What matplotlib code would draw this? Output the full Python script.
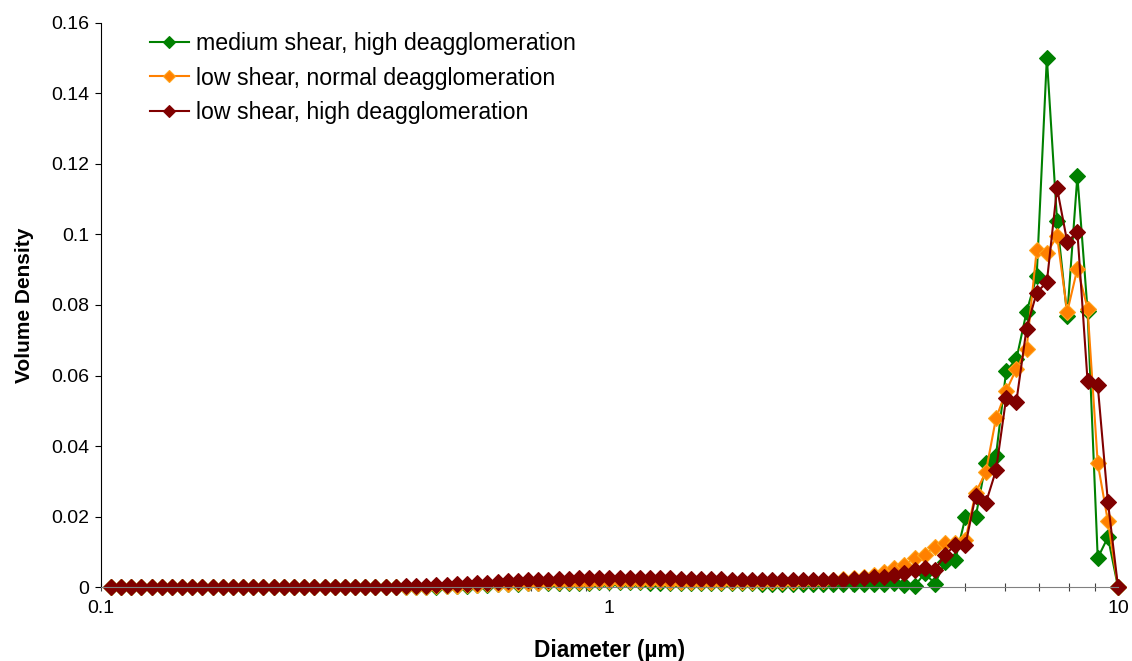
import numpy as np
import matplotlib
matplotlib.use("Agg")
import matplotlib.pyplot as plt
from matplotlib.ticker import FuncFormatter, FixedLocator, NullFormatter

plt.rcParams['font.family'] = ['Liberation Sans', 'DejaVu Sans']

# size classes (um), log spaced
diameter = [
    0.1047, 0.1096, 0.1148, 0.1202, 0.1259, 0.1318, 0.1380, 0.1445, 0.1514, 0.1585,
    0.1660, 0.1738, 0.1820, 0.1905, 0.1995, 0.2089, 0.2188, 0.2291, 0.2399, 0.2512,
    0.2630, 0.2754, 0.2884, 0.3020, 0.3162, 0.3311, 0.3467, 0.3631, 0.3802, 0.3981,
    0.4169, 0.4365, 0.4571, 0.4786, 0.5012, 0.5248, 0.5495, 0.5754, 0.6026, 0.6310,
    0.6607, 0.6918, 0.7244, 0.7586, 0.7943, 0.8318, 0.8710, 0.9120, 0.9550, 1.0000,
    1.047, 1.096, 1.148, 1.202, 1.259, 1.318, 1.380, 1.445, 1.514, 1.585,
    1.660, 1.738, 1.820, 1.905, 1.995, 2.089, 2.188, 2.291, 2.399, 2.512,
    2.630, 2.754, 2.884, 3.020, 3.162, 3.311, 3.467, 3.631, 3.802, 3.981,
    4.169, 4.365, 4.571, 4.786, 5.012, 5.248, 5.495, 5.754, 6.026, 6.310,
    6.607, 6.918, 7.244, 7.586, 7.943, 8.318, 8.710, 9.120, 9.550, 10.00,
]

# medium shear, high deagglomeration
med_high = [
    0, 0, 0, 0, 0, 0, 0, 0, 0, 0,
    0, 0, 0, 0, 0, 0, 0, 0, 0, 0,
    0, 0, 0, 0, 0, 0, 0, 0, 0, 0,
    0.0001, 0.0001, 0.0002, 0.0003, 0.0004, 0.0005, 0.0006, 0.0007, 0.0008, 0.0009,
    0.0010, 0.0011, 0.0011, 0.0012, 0.0012, 0.0013, 0.0013, 0.0013, 0.0014, 0.0014,
    0.0014, 0.0014, 0.0014, 0.0013, 0.0013, 0.0013, 0.0013, 0.0012, 0.0012, 0.0012,
    0.0012, 0.0011, 0.0011, 0.0011, 0.0010, 0.0010, 0.0010, 0.0010, 0.0009, 0.0009,
    0.0009, 0.0009, 0.0009, 0.0009, 0.0009, 0.0009, 0.0008, 0.0012, 0.0006, 0.0004,
    0.0040, 0.0010, 0.0073, 0.0078, 0.0199, 0.0199, 0.0352, 0.0373, 0.0613, 0.0646,
    0.0780, 0.0881, 0.1501, 0.1039, 0.0769, 0.1166, 0.0784, 0.0083, 0.0142, 0,
]

# low shear, normal deagglomeration
low_normal = [
    0, 0, 0, 0, 0, 0, 0, 0, 0, 0,
    0, 0, 0, 0, 0, 0, 0, 0, 0, 0,
    0, 0, 0, 0, 0, 0, 0, 0, 0, 0,
    0.0001, 0.0002, 0.0003, 0.0004, 0.0005, 0.0006, 0.0007, 0.0008, 0.0009, 0.0010,
    0.0011, 0.0012, 0.0013, 0.0014, 0.0015, 0.0015, 0.0016, 0.0016, 0.0017, 0.0017,
    0.0017, 0.0017, 0.0017, 0.0017, 0.0017, 0.0016, 0.0016, 0.0016, 0.0016, 0.0016,
    0.0016, 0.0015, 0.0015, 0.0015, 0.0015, 0.0015, 0.0015, 0.0016, 0.0017, 0.0018,
    0.0019, 0.0021, 0.0023, 0.0026, 0.0029, 0.0035, 0.0044, 0.0054, 0.0063, 0.0082,
    0.0092, 0.0115, 0.0125, 0.0125, 0.0135, 0.0268, 0.0326, 0.0479, 0.0556, 0.0619,
    0.0674, 0.0956, 0.0946, 0.0996, 0.0780, 0.0903, 0.0790, 0.0352, 0.0187, 0,
]

# low shear, high deagglomeration
low_high = [
    0, 0, 0, 0, 0, 0, 0, 0, 0, 0,
    0, 0, 0, 0, 0, 0, 0, 0, 0, 0,
    0, 0, 0, 0, 0, 0, 0.0001, 0.0001, 0.0002, 0.0003,
    0.0004, 0.0005, 0.0006, 0.0007, 0.0009, 0.0010, 0.0011, 0.0013, 0.0015, 0.0017,
    0.0018, 0.0020, 0.0021, 0.0022, 0.0023, 0.0024, 0.0025, 0.0025, 0.0026, 0.0026,
    0.0026, 0.0026, 0.0026, 0.0025, 0.0025, 0.0025, 0.0024, 0.0024, 0.0023, 0.0023,
    0.0023, 0.0022, 0.0022, 0.0022, 0.0021, 0.0021, 0.0021, 0.0021, 0.0020, 0.0020,
    0.0021, 0.0021, 0.0022, 0.0024, 0.0026, 0.0028, 0.0030, 0.0035, 0.0040, 0.0049,
    0.0054, 0.0049, 0.0092, 0.0120, 0.0120, 0.0260, 0.0239, 0.0331, 0.0537, 0.0526,
    0.0733, 0.0835, 0.0865, 0.1131, 0.0979, 0.1007, 0.0584, 0.0572, 0.0242, 0,
]

labels = ["medium shear, high deagglomeration",
          "low shear, normal deagglomeration",
          "low shear, high deagglomeration"]
series = [med_high, low_normal, low_high]
colors = ["#008000", "#FF8000", "#800000"]
edges = ["#008000", "#FFA31A", "#800000"]

fig = plt.figure(figsize=(11.32, 6.61), dpi=100)
ax = fig.add_axes([0.089, 0.1115, 0.8987, 0.8542])

for y, lab, c, ec in zip(series, labels, colors, edges):
    ax.plot(diameter, y, color=c, lw=1.5, marker='D', ms=8.5,
            mfc=c, mec=ec, mew=0.8, label=lab, clip_on=False)

ax.set_xscale('log')
ax.set_xlim(0.1, 10)
ax.set_ylim(0, 0.16)
ax.set_yticks(np.arange(0, 0.161, 0.02))
ax.yaxis.set_major_formatter(FuncFormatter(lambda v, p: f"{v:g}"))
ax.xaxis.set_major_locator(FixedLocator([0.1, 1, 10]))
ax.xaxis.set_major_formatter(FuncFormatter(lambda v, p: f"{v:g}"))
ax.xaxis.set_minor_locator(FixedLocator([k * 10.0 ** e for e in (-1, 0) for k in range(2, 10)]))
ax.xaxis.set_minor_formatter(NullFormatter())

for s in ("top", "right"):
    ax.spines[s].set_visible(False)
ax.spines["left"].set_color("black")
ax.spines["bottom"].set_color("#808080")
ax.tick_params(axis='y', direction='out', length=4.5, width=0.8, labelsize=14, pad=4)
ax.tick_params(axis='x', which='both', direction='inout', length=6, width=0.8,
               color='#404040', labelsize=14, pad=6)

ax.set_xlabel("Diameter (\u00b5m)", fontsize=16.3, fontweight='bold', labelpad=16)
ax.set_ylabel("Volume Density", fontsize=15, fontweight='bold', labelpad=12)

leg = ax.legend(loc='upper left', bbox_to_anchor=(0.039, 1.0), frameon=False,
                fontsize=16.7, markerscale=0.72, handlelength=1.7,
                handletextpad=0.3, labelspacing=0.5, borderaxespad=0)

fig.savefig("out.png", dpi=100)
